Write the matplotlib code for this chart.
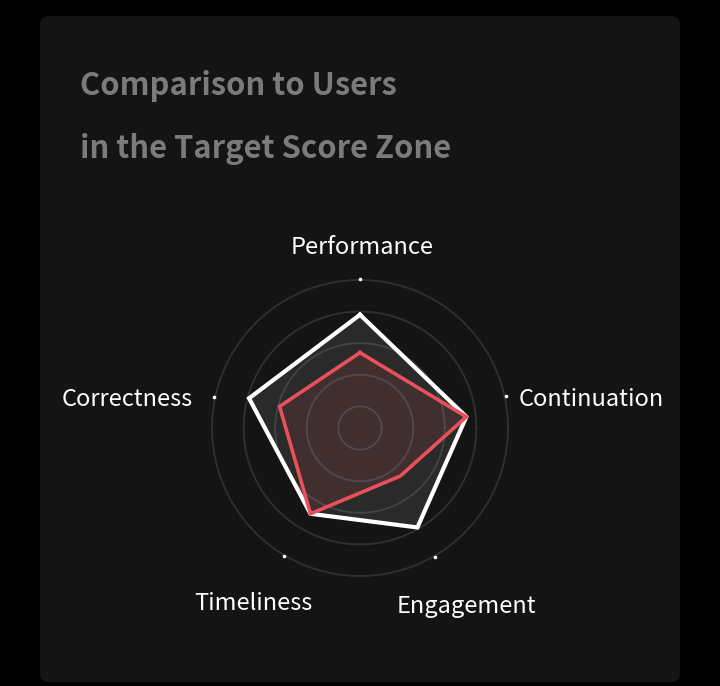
import numpy as np
import matplotlib
matplotlib.use("Agg")
import matplotlib.pyplot as plt
from matplotlib.patches import FancyBboxPatch

# ---- data ----
categories = ["Performance", "Continuation", "Engagement", "Timeliness", "Correctness"]
target_zone = [78, 74, 79, 69, 79]      # white polygon
my_scores = [54, 74, 46, 69, 59]        # red polygon
ring_levels = [20, 40, 60, 80, 100]
title_lines = ["Comparison to Users", "in the Target Score Zone"]

# ---- layout (angles of the axes in degrees, CCW from east) ----
axis_deg = [90, 6, -60, -120, 165]
red_axis_deg = [90, 6, -50, -120, 165]
dot_deg = [90, 12.5, -60, -120.7, 168]

W, H = 720, 686
fig = plt.figure(figsize=(W / 100, H / 100), dpi=100)
fig.patch.set_facecolor("black")

FONT = ["Noto Sans CJK KR", "DejaVu Sans"]

def fx(px):
    return px / W

def fy(py):
    return 1 - py / H

# panel
panel = FancyBboxPatch((fx(40), fy(682)), fx(680) - fx(40), fy(16) - fy(682),
                       boxstyle="round,pad=0,rounding_size=0.012",
                       transform=fig.transFigure, facecolor="#141414",
                       edgecolor="none", zorder=-10)
fig.patches.append(panel)

# title
fig.text(fx(80), fy(95), title_lines[0], fontsize=22.3, fontweight="bold",
         color="#7b7b7b", family=FONT, ha="left", va="baseline")
fig.text(fx(80), fy(158), title_lines[1], fontsize=22.3, fontweight="bold",
         color="#7b7b7b", family=FONT, ha="left", va="baseline")

# polar axes
cx, cy, R = 360, 428, 148
ax = fig.add_axes([fx(cx - R), fy(cy + R), 2 * R / W, 2 * R / H], projection="polar")
ax.set_zorder(5)
ax.patch.set_alpha(0)
ax.set_ylim(6.3, 100)
ax.grid(False)
ax.set_xticks([])
ax.set_yticks([])
for sp in ax.spines.values():
    sp.set_visible(False)

def closed(vals):
    return list(vals) + [vals[0]]

th_w = np.deg2rad(closed(axis_deg))
th_r = np.deg2rad(closed(red_axis_deg))
rw = closed(target_zone)
rr = closed(my_scores)

ax.fill(th_w, rw, color="white", alpha=0.095, lw=0, zorder=2, clip_on=False)
ax.fill(th_r, rr, color="#e8505b", alpha=0.12, lw=0, zorder=3, clip_on=False)

circ = np.linspace(0, 2 * np.pi, 400)
for lv in ring_levels:
    ax.plot(circ, [lv] * len(circ), color="white", alpha=0.12, lw=1.3, zorder=4,
            clip_on=False)

ax.plot(th_w, rw, color="white", lw=3.0, solid_joinstyle="miter", zorder=5, clip_on=False)
ax.plot(th_r, rr, color="#e8505b", lw=2.6, solid_joinstyle="miter", zorder=6, clip_on=False)

ax.plot(np.deg2rad(dot_deg), [100.8] * len(dot_deg), "o", color="white",
        ms=2.6, mew=0, clip_on=False, zorder=7)

# axis labels
lab_kw = dict(fontsize=17, color="white", family=FONT)
fig.text(fx(362), fy(248), categories[0], ha="center", va="center", **lab_kw)
fig.text(fx(519), fy(400), categories[1], ha="left", va="center", **lab_kw)
fig.text(fx(466), fy(606), categories[2], ha="center", va="center", **lab_kw)
fig.text(fx(253), fy(604), categories[3], ha="center", va="center", **lab_kw)
fig.text(fx(193), fy(400), categories[4], ha="right", va="center", **lab_kw)

fig.savefig("out.png", dpi=100, facecolor=fig.get_facecolor())
